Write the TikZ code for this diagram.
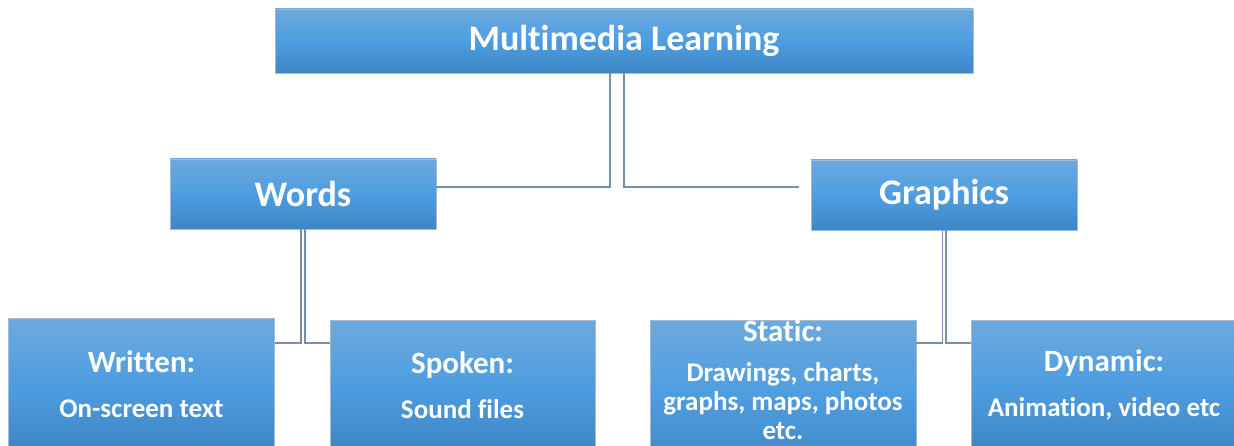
\documentclass[tikz,border=0pt]{standalone}
\usepackage{fontspec}
\setmainfont{Carlito}[RawFeature={-liga;-clig;-dlig;-calt}]
\definecolor{boxtop}{HTML}{6CA9DE}
\definecolor{boxmid}{HTML}{4E9DE0}
\definecolor{boxbot}{HTML}{3E86C6}
\definecolor{boxrim}{HTML}{A8BACB}
\definecolor{linkline}{HTML}{7390AD}
\begin{document}
\begin{tikzpicture}[x=1pt,y=-1pt,
  box/.style={draw=boxrim, line width=0.8pt, top color=boxtop, bottom color=boxbot,
    middle color=boxmid, text=white, inner sep=0pt, align=center},
  headbox/.style={box, font=\bfseries\fontsize{36}{40}\selectfont},
  leafbox/.style={box, minimum width=266pt, font=\bfseries\fontsize{27}{29}\selectfont},
  link/.style={draw=linkline, line width=1.6pt}]
\useasboundingbox (0,0) rectangle (1234,446);
\begin{scope}
\clip (0,0) rectangle (1234,446);

% top level
\node[headbox, minimum width=698pt, minimum height=64pt] (ml) at (624,41) {Multimedia Learning};

% second level
\node[headbox, minimum width=266pt, minimum height=70pt] (words) at (303,194) {Words};
\node[headbox, minimum width=266pt, minimum height=70pt] (graphics) at (944,195) {Graphics};

% leaves (the lower edges run past the page)
\node[leafbox, minimum height=132pt] (written) at (141.5,384)
  {{\fontsize{31}{29}\selectfont Written:}\\[16pt]On-screen text};
\node[leafbox, minimum height=130pt, minimum width=265pt] (spoken) at (462.5,385)
  {{\fontsize{31}{29}\selectfont Spoken:}\\[16pt]Sound files};
% the strut after "etc." lifts the text towards the top edge
\node[leafbox, minimum height=150pt] (static) at (783,395)
  {{\fontsize{31}{29}\selectfont Static:}\\[11pt]Drawings, charts,\\graphs, maps, photos\\etc.\rule[-30pt]{0pt}{0pt}};
\node[leafbox, minimum height=130pt] (dynamic) at (1104,385)
  {{\fontsize{31}{29}\selectfont Dynamic:}\\[16pt]Animation, video etc};

% connectors
\coordinate (upperbar) at (0,187);
\coordinate (lowerbar) at (0,343);
\draw[link] ([xshift=-14pt]ml.south) |- (words.east |- upperbar);
\draw[link] (ml.south) |- ([xshift=-12pt]graphics.west |- upperbar);
\draw[link] ([xshift=-1.8pt]words.south) |- (written.east |- lowerbar);
\draw[link] ([xshift=1.8pt]words.south) |- (spoken.west |- lowerbar);
\draw[link] ([xshift=-1.5pt]graphics.south) |- (static.east |- lowerbar);
\draw[link] ([xshift=1.8pt]graphics.south) |- (dynamic.west |- lowerbar);
\end{scope}
\end{tikzpicture}
\end{document}
